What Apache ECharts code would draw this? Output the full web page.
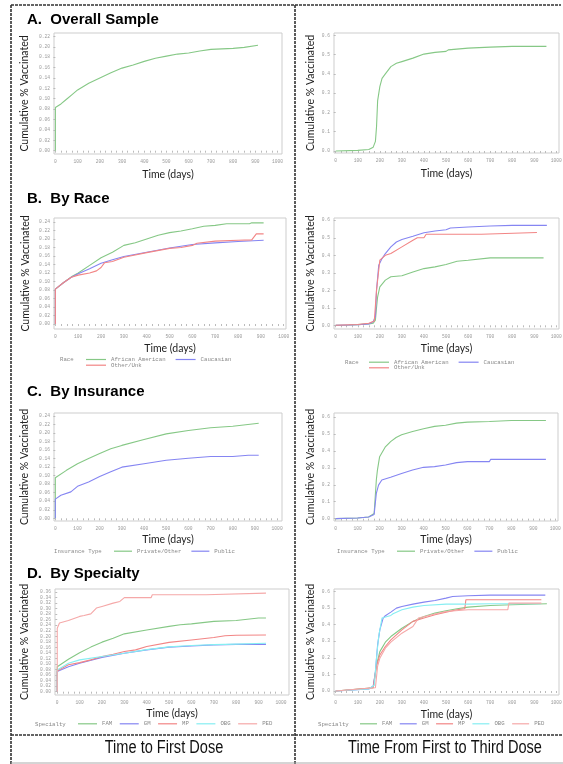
<!DOCTYPE html>
<html><head><meta charset="utf-8">
<script src="https://cdn.jsdelivr.net/npm/echarts@6/dist/echarts.min.js"></script>
<style>html,body{margin:0;padding:0;background:#fff}#c{width:563px;height:764px}</style>
</head><body><div id="c"></div>
<script>
// ---------- tick labels ----------
const xTickLabels = [0,100,200,300,400,500,600,700,800,900,1000];
const xMinorTicks = [0,25,50,75,100,125,150,175,200,225,250,275,300,325,350,375,400,425,450,475,500,525,550,575,600,625,650,675,700,725,750,775,800,825,850,875,900,925,950,975,1000];
const yTicksA1 = [0,0.02,0.04,0.06,0.08,0.10,0.12,0.14,0.16,0.18,0.20,0.22];
const yTicksB1 = [0,0.02,0.04,0.06,0.08,0.10,0.12,0.14,0.16,0.18,0.20,0.22,0.24];
const yTicksC1 = [0,0.02,0.04,0.06,0.08,0.10,0.12,0.14,0.16,0.18,0.20,0.22,0.24];
const yTicksD1 = [0,0.02,0.04,0.06,0.08,0.10,0.12,0.14,0.16,0.18,0.20,0.22,0.24,0.26,0.28,0.30,0.32,0.34,0.36];
const yTicksRight = [0,0.1,0.2,0.3,0.4,0.5,0.6];

// ---------- categories ----------
const raceGroups = ['African American','Caucasian','Other/Unk'];
const insuranceGroups = ['Private/Other','Public'];
const specialtyGroups = ['FAM','GM','MP','OBG','PED'];

// ---------- series values [days, cumulative share] ----------
// A. Overall
const overallFirst = [[0,0],[0,0.083],[25,0.090],[50,0.099],[75,0.108],[100,0.117],[150,0.130],[200,0.140],[250,0.150],[300,0.159],[350,0.165],[400,0.172],[450,0.178],[500,0.182],[550,0.186],[600,0.188],[650,0.192],[700,0.195],[800,0.197],[850,0.199],[912,0.203]];
const overallThird = [[0,0],[100,0.003],[150,0.008],[170,0.02],[180,0.05],[185,0.125],[190,0.26],[200,0.334],[210,0.377],[225,0.40],[250,0.438],[275,0.455],[300,0.464],[350,0.482],[400,0.503],[450,0.512],[500,0.517],[510,0.525],[600,0.534],[700,0.539],[800,0.543],[955,0.543]];
// B. Race - first dose
const raceFirstAA = [[0,0],[0,0.082],[35,0.097],[70,0.111],[100,0.120],[150,0.138],[200,0.156],[250,0.169],[300,0.185],[350,0.191],[400,0.200],[450,0.209],[500,0.215],[550,0.219],[600,0.224],[650,0.230],[700,0.232],[750,0.236],[850,0.236],[860,0.238],[912,0.238]];
const raceFirstCauc = [[0,0],[0,0.082],[35,0.097],[70,0.110],[100,0.118],[150,0.130],[200,0.143],[250,0.151],[300,0.159],[400,0.169],[500,0.179],[600,0.187],[700,0.191],[800,0.194],[912,0.197]];
const raceFirstOther = [[0,0],[0,0.082],[35,0.097],[70,0.110],[100,0.115],[150,0.120],[180,0.125],[200,0.133],[215,0.144],[250,0.147],[300,0.157],[400,0.168],[500,0.178],[550,0.180],[600,0.185],[620,0.190],[700,0.195],[800,0.197],[860,0.198],[870,0.205],[880,0.212],[912,0.212]];
// B. Race - first to third dose
const raceThirdAA = [[0,0],[60,0.002],[100,0.004],[150,0.008],[170,0.012],[180,0.03],[185,0.1],[190,0.163],[200,0.22],[225,0.258],[250,0.277],[300,0.283],[350,0.305],[400,0.324],[450,0.334],[500,0.347],[550,0.366],[600,0.372],[700,0.385],[942,0.385]];
const raceThirdCauc = [[0,0],[60,0.002],[100,0.003],[150,0.008],[170,0.021],[180,0.05],[185,0.2],[195,0.343],[210,0.381],[225,0.41],[250,0.448],[275,0.476],[300,0.49],[350,0.509],[400,0.529],[450,0.539],[500,0.546],[520,0.556],[600,0.562],[700,0.567],[800,0.571],[957,0.571]];
const raceThirdOther = [[0,0],[100,0.005],[150,0.012],[175,0.025],[185,0.2],[200,0.372],[225,0.40],[250,0.41],[300,0.448],[350,0.486],[370,0.5],[400,0.5],[410,0.52],[660,0.52],[665,0.53],[912,0.53]];
// C. Insurance
const insFirstPrivate = [[0,0],[0,0.095],[50,0.1125],[100,0.128],[150,0.14],[200,0.152],[250,0.163],[300,0.171],[400,0.185],[500,0.198],[600,0.206],[700,0.2125],[800,0.216],[917,0.223]];
const insFirstPublic = [[0,0],[0,0.045],[25,0.054],[70,0.062],[100,0.075],[150,0.085],[200,0.098],[250,0.109],[300,0.12],[400,0.128],[500,0.136],[600,0.141],[700,0.145],[800,0.145],[870,0.148],[917,0.148]];
const insThirdPrivate = [[0,0],[100,0.004],[150,0.01],[175,0.03],[185,0.228],[190,0.287],[200,0.366],[225,0.422],[250,0.455],[275,0.479],[300,0.495],[350,0.515],[400,0.531],[450,0.545],[500,0.552],[550,0.564],[600,0.57],[700,0.574],[800,0.58],[957,0.58]];
const insThirdPublic = [[0,0],[100,0.004],[150,0.01],[175,0.025],[185,0.149],[195,0.198],[210,0.228],[250,0.244],[300,0.267],[350,0.287],[400,0.303],[450,0.307],[500,0.317],[550,0.331],[600,0.337],[700,0.337],[705,0.35],[957,0.35]];
// D. Specialty - first dose
const specFirstFAM = [[0,0],[0,0.09],[50,0.117],[100,0.141],[150,0.161],[200,0.179],[250,0.193],[300,0.209],[400,0.223],[500,0.236],[550,0.242],[600,0.245],[700,0.254],[800,0.257],[900,0.266],[933,0.266]];
const specFirstGM = [[0,0],[0,0.073],[50,0.09],[100,0.103],[200,0.124],[300,0.139],[400,0.151],[500,0.161],[600,0.165],[700,0.169],[800,0.171],[933,0.171]];
const specFirstMP = [[0,0],[0,0.075],[50,0.097],[100,0.105],[150,0.115],[200,0.127],[250,0.135],[300,0.145],[350,0.151],[400,0.163],[500,0.178],[600,0.187],[700,0.196],[750,0.202],[800,0.204],[933,0.205]];
const specFirstOBG = [[0,0],[0,0.078],[50,0.103],[100,0.115],[200,0.127],[300,0.139],[400,0.152],[500,0.162],[600,0.167],[700,0.17],[800,0.172],[933,0.175]];
const specFirstPED = [[0,0],[0,0.229],[10,0.248],[50,0.257],[100,0.272],[120,0.275],[150,0.281],[175,0.302],[200,0.308],[250,0.32],[280,0.326],[300,0.34],[420,0.34],[425,0.35],[665,0.35],[670,0.356],[933,0.356]];
// D. Specialty - first to third dose
const specThirdFAM = [[0,0],[170,0.02],[185,0.157],[200,0.237],[225,0.294],[250,0.328],[300,0.378],[350,0.419],[400,0.449],[450,0.469],[500,0.483],[550,0.495],[600,0.505],[700,0.515],[800,0.519],[957,0.525]];
const specThirdGM = [[0,0],[60,0.005],[150,0.012],[170,0.03],[180,0.117],[190,0.278],[200,0.368],[215,0.439],[225,0.453],[250,0.475],[275,0.499],[300,0.509],[350,0.523],[400,0.535],[450,0.545],[500,0.559],[530,0.569],[600,0.573],[700,0.577],[950,0.577]];
const specThirdMP = [[0,0],[170,0.02],[185,0.15],[200,0.217],[225,0.268],[250,0.308],[300,0.368],[350,0.419],[400,0.439],[450,0.459],[500,0.475],[550,0.489],[585,0.495],[590,0.549],[932,0.549]];
const specThirdOBG = [[0,0],[150,0.012],[175,0.035],[185,0.2],[195,0.33],[210,0.44],[250,0.455],[260,0.465],[300,0.489],[350,0.505],[400,0.515],[500,0.523],[600,0.523],[700,0.525],[930,0.525]];
const specThirdPED = [[0,0],[180,0.02],[190,0.15],[200,0.197],[225,0.258],[250,0.294],[300,0.348],[350,0.388],[375,0.439],[450,0.463],[500,0.479],[600,0.489],[780,0.489],[785,0.529],[932,0.529]];

// ---------- styling ----------
const C = {green:'#86c886', blue:'#8585f2', red:'#f28585', cyan:'#86eef2', pink:'#f5a8a8'};
const TICK_FONT = 'Liberation Mono';
const NAME_FONT = 'Lato';

const panels = [
  {l:54, t:33, w:228, h:121, xmin:-6.3, xmax:1020, ymin:-0.0064, ymax:0.2266, yt:yTicksA1, dec:2, yg:24, xg:15,
   s:[['Overall', overallFirst, C.green]]},
  {l:334, t:33, w:225, h:120, xmin:-7.7, xmax:1012, ymin:-0.0104, ymax:0.6125, yt:yTicksRight, dec:1, yg:17.5, xg:15,
   s:[['Overall ', overallThird, C.green]]},
  {l:54, t:218, w:232, h:111, xmin:-6, xmax:1010, ymin:-0.0117, ymax:0.2494, yt:yTicksB1, dec:2, yg:22.5, xg:14,
   s:[[raceGroups[0], raceFirstAA, C.green],[raceGroups[1], raceFirstCauc, C.blue],[raceGroups[2], raceFirstOther, C.red]]},
  {l:334, t:218, w:225, h:111, xmin:-7.7, xmax:1012, ymin:-0.021, ymax:0.613, yt:yTicksRight, dec:1, yg:17.5, xg:14,
   s:[[raceGroups[0], raceThirdAA, C.green],[raceGroups[1], raceThirdCauc, C.blue],[raceGroups[2], raceThirdOther, C.red]]},
  {l:54, t:413, w:228, h:108, xmin:-6, xmax:1022, ymin:-0.0063, ymax:0.247, yt:yTicksC1, dec:2, yg:24, xg:13,
   s:[[insuranceGroups[0], insFirstPrivate, C.green],[insuranceGroups[1], insFirstPublic, C.blue]]},
  {l:334, t:413, w:224, h:108, xmin:-7.7, xmax:1012, ymin:-0.014, ymax:0.624, yt:yTicksRight, dec:1, yg:17.5, xg:13,
   s:[[insuranceGroups[0], insThirdPrivate, C.green],[insuranceGroups[1], insThirdPublic, C.blue]]},
  {l:55, t:589, w:234, h:106, xmin:-10, xmax:1036, ymin:-0.012, ymax:0.371, yt:yTicksD1, dec:2, yg:24.5, xg:13,
   s:[[specialtyGroups[0], specFirstFAM, C.green],[specialtyGroups[1], specFirstGM, C.blue],[specialtyGroups[2], specFirstMP, C.red],[specialtyGroups[3], specFirstOBG, C.cyan],[specialtyGroups[4], specFirstPED, C.pink]]},
  {l:334, t:589, w:225, h:106, xmin:-7.7, xmax:1012, ymin:-0.024, ymax:0.614, yt:yTicksRight, dec:1, yg:17.5, xg:14,
   s:[[specialtyGroups[0], specThirdFAM, C.green],[specialtyGroups[1], specThirdGM, C.blue],[specialtyGroups[2], specThirdMP, C.red],[specialtyGroups[3], specThirdOBG, C.cyan],[specialtyGroups[4], specThirdPED, C.pink]]}
];

const grids = [], xAxes = [], yAxes = [], series = [];
panels.forEach((p, i) => {
  grids.push({left:p.l, top:p.t, width:p.w, height:p.h, show:true, borderColor:'#cdcdcd', borderWidth:1,
    backgroundColor:'#fff', containLabel:false, outerBoundsMode:'none'});
  xAxes.push({type:'value', gridIndex:i, min:p.xmin, max:p.xmax,
    name:'Time (days)', nameLocation:'middle', nameGap:p.xg, nameMoveOverlap:false,
    nameTextStyle:{fontFamily:NAME_FONT, fontSize:10.5, color:'#222'},
    axisLine:{show:false}, splitLine:{show:false},
    axisTick:{show:true, length:2, inside:false, customValues:xMinorTicks, lineStyle:{color:'#bbb', width:1}},
    axisLabel:{show:true, customValues:xTickLabels, fontFamily:TICK_FONT, fontSize:4.6, color:'#999', margin:5,
      formatter:v => String(Math.round(v))}
  });
  yAxes.push({type:'value', gridIndex:i, min:p.ymin, max:p.ymax,
    name:'Cumulative % Vaccinated', nameLocation:'middle', nameRotate:90, nameGap:p.yg, nameMoveOverlap:false,
    nameTextStyle:{fontFamily:NAME_FONT, fontSize:10.5, color:'#222'},
    axisLine:{show:false}, splitLine:{show:false},
    axisTick:{show:true, length:2, customValues:p.yt, lineStyle:{color:'#bbb', width:1}},
    axisLabel:{show:true, customValues:p.yt, fontFamily:TICK_FONT, fontSize:4.6, color:'#999', margin:4,
      formatter:v => v.toFixed(p.dec)}
  });
  p.s.forEach(([name, data, color]) => {
    series.push({type:'line', name, xAxisIndex:i, yAxisIndex:i, data, symbol:'none', showSymbol:false,
      silent:true, animation:false, lineStyle:{width:1.1, color}, itemStyle:{color}});
  });
});

const legTxt = {fontFamily:TICK_FONT, fontSize:5.7, color:'#888'};
const legBase = {orient:'horizontal', icon:'rect', itemWidth:20, itemHeight:1.2, padding:0, itemGap:10,
  selectedMode:false, textStyle:legTxt};
const legends = [
  Object.assign({}, legBase, {left:86, top:356.5, data:[raceGroups[0], raceGroups[1]]}),
  Object.assign({}, legBase, {left:86, top:362.2, data:[raceGroups[2]]}),
  Object.assign({}, legBase, {left:369, top:359.2, data:[raceGroups[0], raceGroups[1]]}),
  Object.assign({}, legBase, {left:369, top:364.8, data:[raceGroups[2]]}),
  Object.assign({}, legBase, {left:114, top:548.2, itemWidth:18, data:insuranceGroups}),
  Object.assign({}, legBase, {left:397, top:548.2, itemWidth:18, data:insuranceGroups}),
  Object.assign({}, legBase, {left:78, top:720.8, itemWidth:19, itemGap:7.5, data:specialtyGroups,
    textStyle:Object.assign({}, legTxt, {width:12})}),
  Object.assign({}, legBase, {left:360, top:720.8, itemWidth:17, itemGap:7.5, data:specialtyGroups,
    textStyle:Object.assign({}, legTxt, {width:12})})
];

function txt(x, y, text, font, fill, align, extra) {
  return Object.assign({type:'text', x, y, silent:true, z:10,
    style:{text, font, fill, align:align || 'left', verticalAlign:'middle'}}, extra || {});
}
function ln(x1, y1, x2, y2, stroke, lw, dash) {
  return {type:'line', silent:true, z:10, shape:{x1, y1, x2, y2},
    style:{stroke, lineWidth:lw, lineDash:dash || null}};
}
const titleFont = 'bold 15px "Liberation Sans", Arial, sans-serif';
const hdrFont = '5.7px "Liberation Mono", monospace';
const graphics = [
  ln(11, 5, 561, 5, '#333', 1.6, [3, 1]),
  ln(11, 5, 11, 764, '#333', 1.6, [3, 1]),
  ln(295, 5, 295, 764, '#333', 1.6, [3, 1]),
  ln(11, 735, 563, 735, '#333', 1.6, [3, 1]),
  ln(11, 763, 563, 763, '#aaa', 1),
  txt(27, 20, 'A.  Overall Sample', titleFont, '#000'),
  txt(27, 198.5, 'B.  By Race', titleFont, '#000'),
  txt(27, 392, 'C.  By Insurance', titleFont, '#000'),
  txt(27, 574, 'D.  By Specialty', titleFont, '#000'),
  txt(60, 359.5, 'Race', hdrFont, '#888'),
  txt(345, 362.5, 'Race', hdrFont, '#888'),
  txt(54, 551.5, 'Insurance Type', hdrFont, '#888'),
  txt(337, 551.5, 'Insurance Type', hdrFont, '#888'),
  txt(35, 724.2, 'Specialty', hdrFont, '#888'),
  txt(318, 724.2, 'Specialty', hdrFont, '#888'),
  txt(164, 748.5, 'Time to First Dose', '18px "Liberation Sans", Arial, sans-serif', '#111', 'center', {scaleX:0.81}),
  txt(445, 748.5, 'Time From First to Third Dose', '18px "Liberation Sans", Arial, sans-serif', '#111', 'center', {scaleX:0.81})
];

const chart = echarts.init(document.getElementById('c'), null, {renderer:'canvas', width:563, height:764});
chart.setOption({
  animation:false,
  backgroundColor:'#fff',
  grid:grids, xAxis:xAxes, yAxis:yAxes, series, legend:legends,
  graphic:{elements:graphics}
});
</script></body></html>
